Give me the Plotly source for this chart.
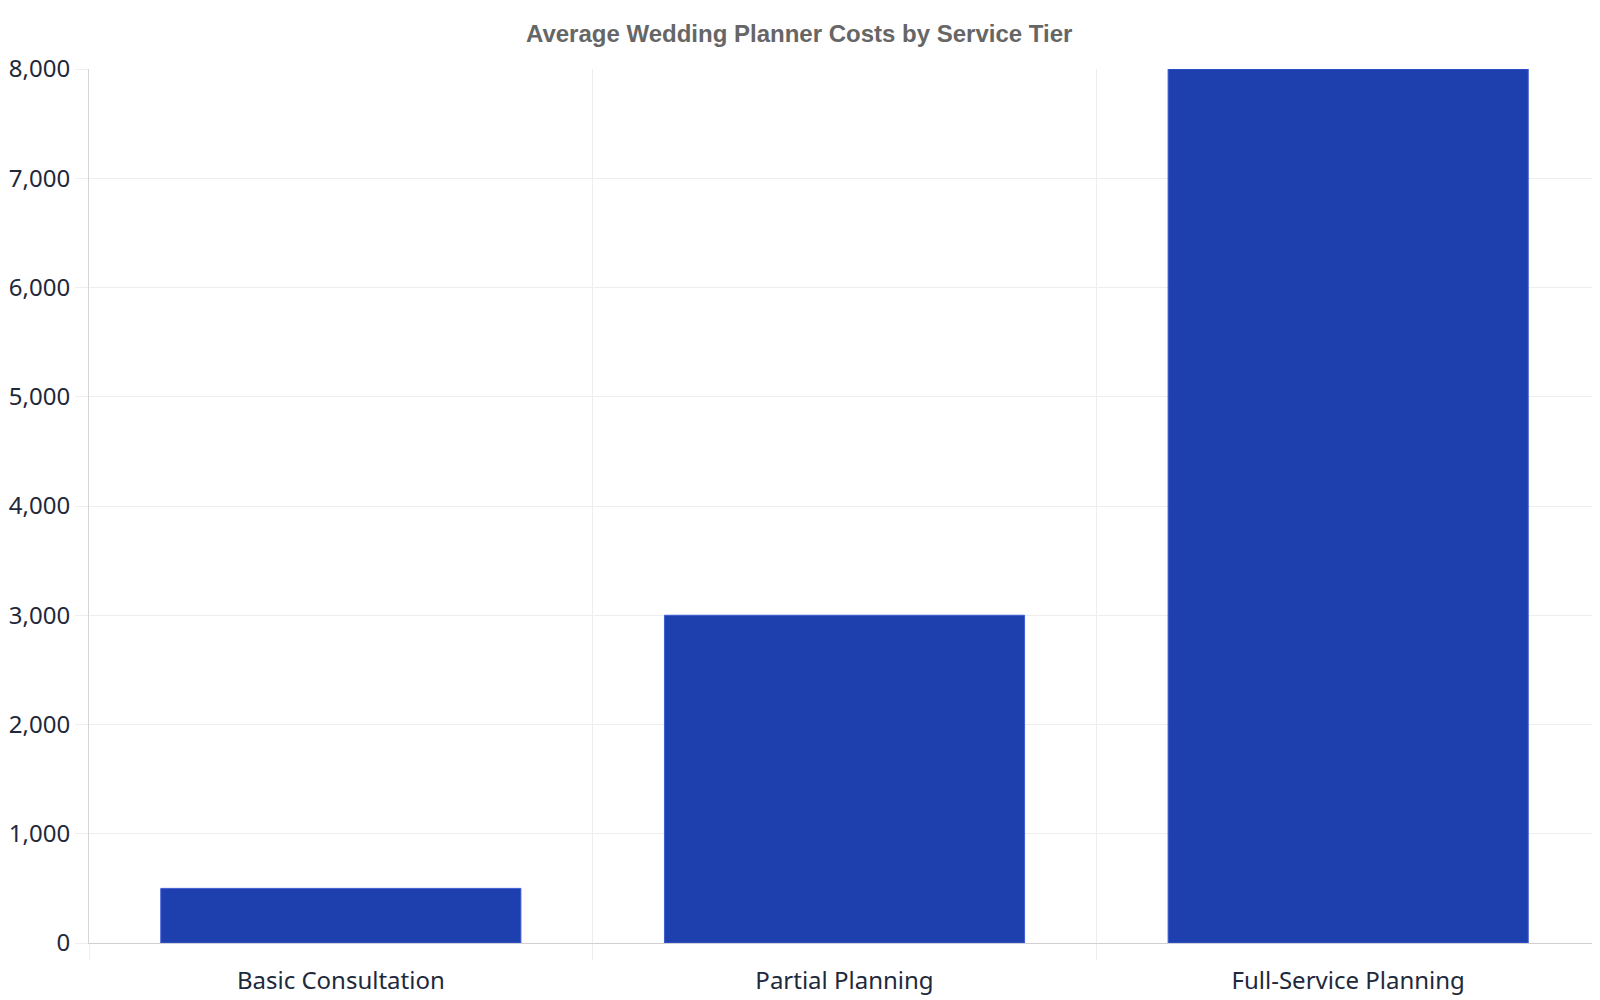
import plotly.graph_objects as go

categories = ["Basic Consultation", "Partial Planning", "Full-Service Planning"]
costs = [500, 3000, 8000]
y_ticks = [0, 1000, 2000, 3000, 4000, 5000, 6000, 7000, 8000]

fig = go.Figure(
    go.Bar(
        x=categories,
        y=costs,
        marker=dict(color="#1e40af", line=dict(color="#3d5bd6", width=1)),
    )
)

fig.update_layout(
    width=1600,
    height=1000,
    margin=dict(l=81, r=8, t=61, b=65, autoexpand=False),
    paper_bgcolor="white",
    plot_bgcolor="white",
    bargap=0.285,
    showlegend=False,
    title=dict(
        text="<b>Average Wedding Planner Costs by Service Tier</b>",
        x=0.4945,
        xanchor="center",
        y=0.974,
        yanchor="middle",
        font=dict(family="Liberation Sans, Arial", size=24, color="#666666"),
    ),
    font=dict(family="Noto Sans", size=24, color="#1e293b"),
)

fig.update_xaxes(
    type="category",
    automargin=False,
    tickson="boundaries",
    ticks="outside",
    ticklen=16,
    tickcolor="#eeeeee",
    ticklabelstandoff=16,
    showgrid=True,
    gridcolor="#eeeeee",
    showline=True,
    linecolor="#d0d0d0",
    linewidth=1,
    tickfont=dict(family="Noto Sans", size=24, color="#1e293b"),
)

fig.update_yaxes(
    range=[0, 8000],
    automargin=False,
    tickvals=y_ticks,
    tickformat=",d",
    ticks="outside",
    ticklen=13,
    tickcolor="#eeeeee",
    showgrid=True,
    gridcolor="#eeeeee",
    zeroline=False,
    showline=True,
    linecolor="#d6d6d6",
    linewidth=1,
    tickfont=dict(family="Noto Sans", size=24, color="#1e293b"),
)

fig.write_html("out.html")
